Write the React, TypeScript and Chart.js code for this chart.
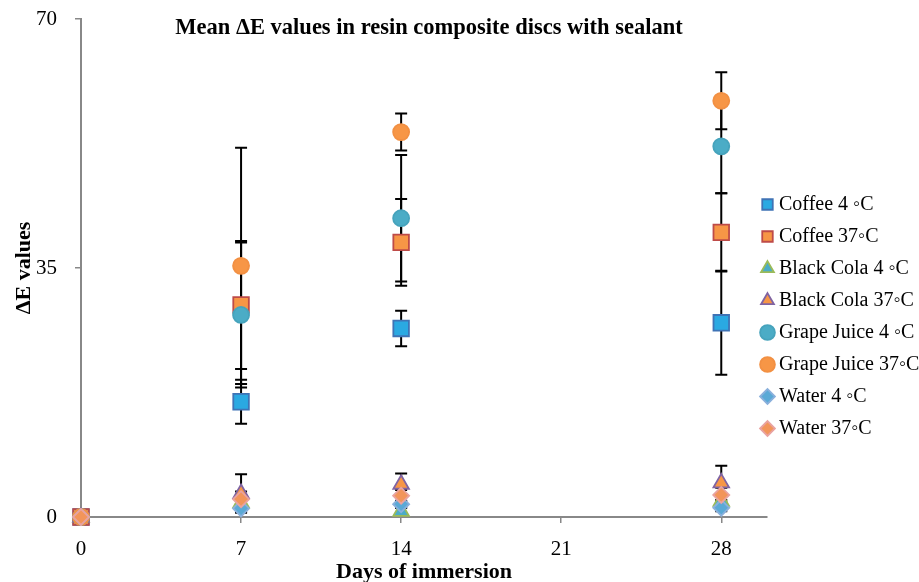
import React, { useEffect, useRef } from "react";
import { Chart, registerables } from "chart.js";

Chart.register(...registerables);

const days = [0, 7, 14, 28];
const xTicks = [0, 7, 14, 21, 28];
const yTicks = [0, 35, 70];

const seriesNames = [
  "Coffee 4 \u25E6C",
  "Coffee 37\u25E6C",
  "Black Cola 4 \u25E6C",
  "Black Cola 37\u25E6C",
  "Grape Juice 4 \u25E6C",
  "Grape Juice 37\u25E6C",
  "Water 4 \u25E6C",
  "Water 37\u25E6C",
];

const coffee4 = [0, 16.2, 26.5, 27.3];
const coffee37 = [0, 29.8, 38.6, 40.0];
const cola4 = [0, 2.0, 0.8, 2.2];
const cola37 = [0, 3.3, 4.6, 4.8];
const grape4 = [0, 28.4, 42.0, 52.1];
const grape37 = [0, 35.3, 54.1, 58.5];
const water4 = [0, 1.2, 1.8, 1.3];
const water37 = [0, 2.5, 3.0, 3.1];

const coffee4Err = [0, 3.1, 2.5, 7.3];
const coffee37Err = [0, 9.0, 6.1, 5.5];
const cola4Err = [0, 0.8, 0.5, 1.0];
const cola37Err = [0, 2.7, 1.5, 2.4];
const grape4Err = [0, 10.2, 8.9, 6.6];
const grape37Err = [0, 16.6, 2.6, 4.0];
const water4Err = [0, 0.5, 0.5, 0.5];
const water37Err = [0, 1.1, 0.8, 1.0];

const seriesValues = [coffee4, coffee37, cola4, cola37, grape4, grape37, water4, water37];
const seriesErrors = [coffee4Err, coffee37Err, cola4Err, cola37Err, grape4Err, grape37Err, water4Err, water37Err];

const styles = [
  { pointStyle: "rect", fill: "#2AA9E2", border: "#3F73B5", radius: 11 },
  { pointStyle: "rect", fill: "#F79646", border: "#BE4B48", radius: 11 },
  { pointStyle: "triangle", fill: "#4BACC6", border: "#9BBB59", radius: 9 },
  { pointStyle: "triangle", fill: "#F79646", border: "#8064A2", radius: 9 },
  { pointStyle: "circle", fill: "#4BACC6", border: "#46A3BC", radius: 8 },
  { pointStyle: "circle", fill: "#F79646", border: "#F29043", radius: 8 },
  { pointStyle: "rectRot", fill: "#5AA9D6", border: "#8AB0DC", radius: 8 },
  { pointStyle: "rectRot", fill: "#F2955A", border: "#E9A3A0", radius: 8 },
];

const errorBarsPlugin = {
  id: "errorBars",
  beforeDatasetsDraw(chart: any) {
    const { ctx } = chart;
    const xs = chart.scales.x;
    const ys = chart.scales.y;
    ctx.save();
    ctx.strokeStyle = "#000";
    ctx.lineWidth = 2;
    seriesValues.forEach((vals, i) => {
      vals.forEach((v, j) => {
        const e = seriesErrors[i][j];
        if (!e) return;
        const px = xs.getPixelForValue(days[j]);
        const top = ys.getPixelForValue(v + e);
        const bot = ys.getPixelForValue(Math.max(0, v - e));
        ctx.beginPath();
        ctx.moveTo(px, top);
        ctx.lineTo(px, bot);
        ctx.moveTo(px - 6, top);
        ctx.lineTo(px + 6, top);
        ctx.moveTo(px - 6, bot);
        ctx.lineTo(px + 6, bot);
        ctx.stroke();
      });
    });
    ctx.restore();
  },
};

const boxShiftPlugin = {
  id: "boxShift",
  afterLayout(chart: any) {
    const l = chart.legend;
    if (l) {
      l.left -= 13;
      l.width += 13;
      l.top += 25.5;
      l.bottom += 25.5;
    }
    const t = chart.titleBlock;
    if (t) {
      t.left += 5;
      t.right += 5;
    }
  },
};

export default function App() {
  const ref = useRef<HTMLCanvasElement | null>(null);
  useEffect(() => {
    if (!ref.current) return;
    Chart.defaults.font.family = "'Liberation Serif', 'Times New Roman', serif";
    Chart.defaults.color = "#000";
    const datasets = seriesNames.map((name, i) => ({
      label: name,
      data: days.map((d, j) => ({ x: d, y: seriesValues[i][j] })),
      showLine: false,
      pointStyle: styles[i].pointStyle,
      pointRadius: styles[i].radius,
      pointHoverRadius: styles[i].radius,
      backgroundColor: styles[i].fill,
      borderColor: styles[i].border,
      pointBorderWidth: 1.8,
      borderWidth: 1.8,
      clip: false,
      order: seriesNames.length - 1 - i,
    }));
    const chart = new Chart(ref.current, {
      type: "scatter",
      data: { datasets },
      plugins: [errorBarsPlugin, boxShiftPlugin],
      options: {
        animation: false,
        responsive: true,
        maintainAspectRatio: false,
        layout: { padding: { top: 0, left: 0, right: 0, bottom: 0 } },
        plugins: {
          tooltip: { enabled: false },
          title: {
            display: true,
            text: "Mean \u0394E values in resin composite discs with sealant",
            fullSize: false,
            font: { size: 22.5, weight: "bold", lineHeight: 1.2 },
            color: "#000",
            padding: { top: 14.5, bottom: -22.5 },
          },
          legend: {
            position: "right",
            align: "center",
            maxWidth: 152,
            labels: {
              usePointStyle: true,
              boxWidth: 3,
              boxHeight: 10.5,
              padding: 12,
              font: { size: 20 },
              color: "#000",
              sort: (a: any, b: any) => a.datasetIndex - b.datasetIndex,
            },
          },
        },
        scales: {
          x: {
            type: "linear",
            min: 0,
            max: 30,
            afterBuildTicks: (s: any) => {
              s.ticks = xTicks.map((v) => ({ value: v }));
            },
            afterFit: (s: any) => {
              s.height = 65;
              s.paddingLeft = 0;
              s.paddingRight = 0;
            },
            ticks: { font: { size: 21 }, color: "#000", padding: 14 },
            grid: { drawOnChartArea: false, drawTicks: true, tickLength: 6, color: "#888", lineWidth: 1.5 },
            border: { color: "#888", width: 2 },
            title: {
              display: true,
              text: "Days of immersion",
              font: { size: 22, weight: "bold" },
              color: "#000",
              padding: { top: 0, bottom: -4 },
            },
          },
          y: {
            type: "linear",
            min: 0,
            max: 70,
            afterBuildTicks: (s: any) => {
              s.ticks = yTicks.map((v) => ({ value: v }));
            },
            afterFit: (s: any) => {
              s.width = 81;
              s.paddingTop = 0;
              s.paddingBottom = 0;
            },
            ticks: { font: { size: 21 }, color: "#000", padding: 18 },
            grid: { drawOnChartArea: false, drawTicks: true, tickLength: 6, color: "#888", lineWidth: 1.5 },
            border: { color: "#888", width: 2 },
            title: {
              display: true,
              text: "\u0394E values",
              font: { size: 22, weight: "bold" },
              color: "#000",
              padding: { top: 11, bottom: 0 },
            },
          },
        },
      },
    });
    return () => chart.destroy();
  }, []);
  return (
    <div style={{ position: "absolute", left: 0, top: 0, width: 919, height: 582 }}>
      <canvas ref={ref} />
    </div>
  );
}
